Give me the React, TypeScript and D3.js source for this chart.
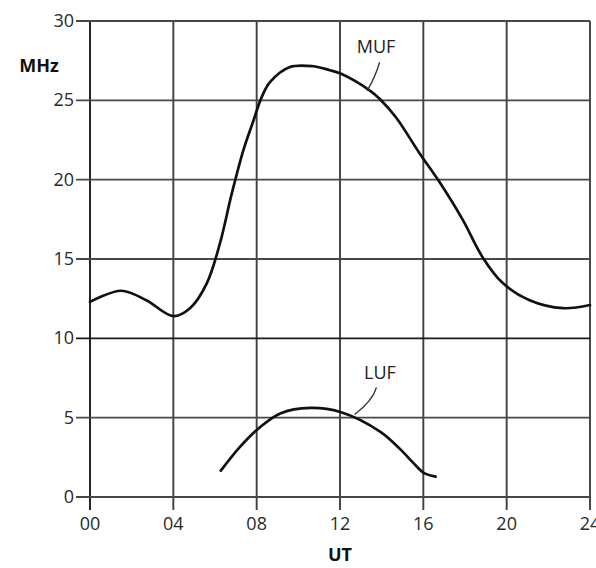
import React, { useRef, useEffect } from "react";
import * as d3 from "d3";

// hours (UT) and MHz values
const mufHours = [0, 1.5, 2.7, 4.0, 4.8, 5.6, 6.24, 6.8, 7.36, 7.84, 8.24, 8.64, 9.6, 10.7, 11.5, 12, 13.45, 13.9, 14.7, 15.8, 16.8, 17.9, 18.85, 19.8, 21.1, 22.7, 24];
const mufValues = [12.3, 13.0, 12.4, 11.4, 11.9, 13.45, 16.0, 19.1, 21.85, 23.7, 25.2, 26.15, 27.1, 27.15, 26.9, 26.7, 25.6, 25.1, 23.9, 21.7, 19.8, 17.45, 15.1, 13.5, 12.4, 11.9, 12.1];

const lufHours = [6.28, 7.21, 8.1, 9.13, 10.58, 12.02, 13.94, 14.9, 15.54, 16.02, 16.59];
const lufValues = [1.66, 3.17, 4.33, 5.27, 5.62, 5.36, 4.11, 3.0, 2.12, 1.52, 1.28];

const xTicks = [0, 4, 8, 12, 16, 20, 24];
const xTickLabels = ["00", "04", "08", "12", "16", "20", "24"];
const yTicks = [0, 5, 10, 15, 20, 25, 30];

const App: React.FC = () => {
  const svgRef = useRef<SVGSVGElement>(null);

  useEffect(() => {
    const width = 596;
    const height = 568;
    const font = "'Open Sans', 'Noto Sans', sans-serif";

    const svg = d3.select(svgRef.current);
    svg.selectAll("*").remove();
    svg.attr("width", width).attr("height", height);

    svg.append("rect").attr("width", width).attr("height", height).attr("fill", "#fff");

    const x = d3.scaleLinear().domain([0, 24]).range([90, 590]);
    const y = d3.scaleLinear().domain([0, 30]).range([497, 21]);

    // grid: vertical lines run a little below the zero line as ticks
    svg.append("g")
      .selectAll("line")
      .data(xTicks)
      .enter()
      .append("line")
      .attr("x1", d => x(d))
      .attr("x2", d => x(d))
      .attr("y1", y(30))
      .attr("y2", y(0) + 13)
      .attr("stroke", d => (d === 0 ? "#1a1a1a" : "#404040"))
      .attr("stroke-width", 1.9);

    // horizontal lines start left of the axis as ticks
    svg.append("g")
      .selectAll("line")
      .data(yTicks)
      .enter()
      .append("line")
      .attr("x1", x(0) - 14)
      .attr("x2", x(24))
      .attr("y1", d => y(d))
      .attr("y2", d => y(d))
      .attr("stroke", d => (d === 10 ? "#1a1a1a" : "#484848"))
      .attr("stroke-width", 1.9);

    // tick labels
    svg.append("g")
      .selectAll("text")
      .data(yTicks)
      .enter()
      .append("text")
      .attr("x", x(0) - 16)
      .attr("y", d => y(d) + 6)
      .attr("text-anchor", "end")
      .attr("font-family", font)
      .attr("font-size", 18)
      .attr("fill", "#2a2a2a")
      .text(d => String(d));

    svg.append("g")
      .selectAll("text")
      .data(xTicks)
      .enter()
      .append("text")
      .attr("x", d => x(d))
      .attr("y", y(0) + 33)
      .attr("text-anchor", "middle")
      .attr("font-family", font)
      .attr("font-size", 18)
      .attr("fill", "#2a2a2a")
      .text((d, i) => xTickLabels[i]);

    // axis titles
    svg.append("text")
      .attr("x", 39)
      .attr("y", 72)
      .attr("text-anchor", "middle")
      .attr("font-family", font)
      .attr("font-size", 18)
      .attr("font-weight", "bold")
      .attr("fill", "#111")
      .text("MHz");

    svg.append("text")
      .attr("x", x(12))
      .attr("y", 561)
      .attr("text-anchor", "middle")
      .attr("font-family", font)
      .attr("font-size", 18)
      .attr("font-weight", "bold")
      .attr("fill", "#111")
      .text("UT");

    // curves
    const line = d3.line<[number, number]>()
      .x(d => x(d[0]))
      .y(d => y(d[1]))
      .curve(d3.curveCatmullRom.alpha(0.5));

    const muf: [number, number][] = mufHours.map((h, i) => [h, mufValues[i]]);
    const luf: [number, number][] = lufHours.map((h, i) => [h, lufValues[i]]);

    [muf, luf].forEach(series => {
      svg.append("path")
        .datum(series)
        .attr("d", line)
        .attr("fill", "none")
        .attr("stroke", "#111")
        .attr("stroke-width", 2.7)
        .attr("stroke-linecap", "round");
    });

    // curve labels with their pointer strokes
    const labels = [
      { text: "MUF", tx: 376, ty: 53, from: [13.9, 27.4], to: [13.3, 25.6] },
      { text: "LUF", tx: 380, ty: 379, from: [13.75, 6.9], to: [12.7, 5.2] },
    ];
    labels.forEach(l => {
      svg.append("text")
        .attr("x", l.tx)
        .attr("y", l.ty)
        .attr("text-anchor", "middle")
        .attr("font-family", font)
        .attr("font-size", 18)
        .attr("fill", "#222")
        .text(l.text);
      svg.append("path")
        .attr("d", `M${x(l.from[0])},${y(l.from[1])} Q${x(l.from[0]) - 4},${(y(l.from[1]) + y(l.to[1])) / 2} ${x(l.to[0])},${y(l.to[1])}`)
        .attr("fill", "none")
        .attr("stroke", "#333")
        .attr("stroke-width", 1.3);
    });
  }, []);

  return (
    <div style={{ position: "absolute", left: 0, top: 0 }}>
      <svg ref={svgRef} style={{ display: "block" }} />
    </div>
  );
};

export default App;
